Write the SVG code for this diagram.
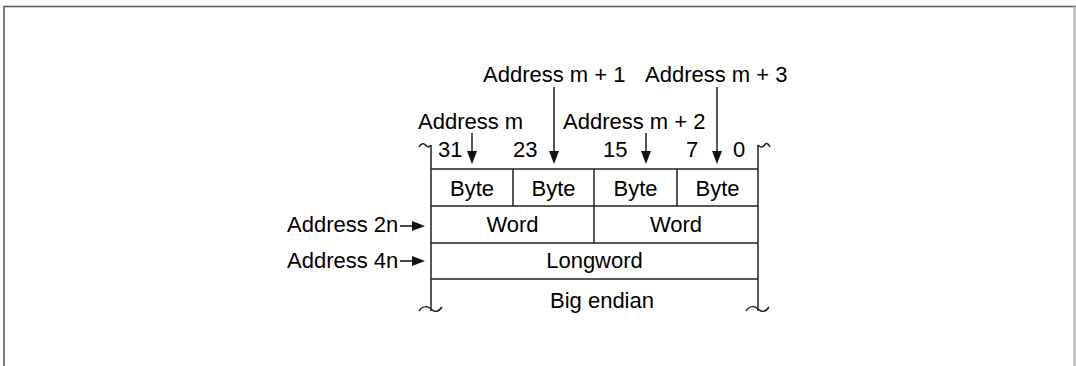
<svg xmlns="http://www.w3.org/2000/svg" width="1076" height="366" viewBox="0 0 1076 366">
<defs>
<style>
text{font-family:"Liberation Sans",Arial,sans-serif;font-size:22px;fill:#000}
.c{text-anchor:middle}
.ln{stroke:#222;stroke-width:1.5;fill:none}
.ar{stroke:#111;stroke-width:1.4;fill:none}
.hd{fill:#111;stroke:none}
</style>
</defs>
<rect width="1076" height="366" fill="#fff"/>
<g id="frame">
<path d="M4,6.5H1076M4,6V366" stroke="#555" stroke-width="1.5" fill="none"/>
<path d="M1074.5,6V366" stroke="#aaa" stroke-width="2" fill="none"/>
</g>
<g id="table">
<path class="ln" d="M431,145V311M758,145V311M431,169H758M431,206H758M431,243H758M431,279H758M513,169V206M594,169V243M677,169V206"/>
<path class="ln" d="M419,147C421,143 424,143 425.5,145S429,147.5 431,145"/>
<path class="ln" d="M758,145C760,147.5 763,147.5 764.5,145S768,143 770,147"/>
<path class="ln" d="M419,311C423,305 428,306 431,309S438,313 442,307"/>
<path class="ln" d="M746,311C750,305 755,306 758,309S765,313 769,307"/>
</g>
<g id="bits">
<text x="438" y="157">31</text>
<text x="513" y="157">23</text>
<text x="603" y="157">15</text>
<text x="686" y="157">7</text>
<text x="733" y="157">0</text>
</g>
<g id="bytes">
<text class="c" x="472" y="196">Byte</text>
<text class="c" x="553.5" y="196">Byte</text>
<text class="c" x="635.5" y="196">Byte</text>
<text class="c" x="717.5" y="196">Byte</text>
</g>
<g id="words">
<text class="c" x="512.5" y="232">Word</text>
<text class="c" x="676" y="232">Word</text>
</g>
<g id="longword"><text class="c" x="594.5" y="268">Longword</text></g>
<g id="endian"><text class="c" x="602" y="308">Big endian</text></g>
<g id="addr-m"><text x="418" y="129">Address m</text></g>
<g id="addr-m1"><text x="483" y="82">Address m + 1</text></g>
<g id="addr-m2"><text x="563" y="129">Address m + 2</text></g>
<g id="addr-m3"><text x="645" y="82">Address m + 3</text></g>
<g id="addr-2n"><text x="287" y="232">Address 2n</text></g>
<g id="addr-4n"><text x="287" y="268">Address 4n</text></g>
<g id="connectors">
<path class="ar" d="M472,133V153M554,87V153M646,133V153M717,87V153M400,226H414M400,261H414"/>
<path class="hd" d="M467,151H477L472,164ZM549,151H559L554,164ZM641,151H651L646,164ZM712,151H722L717,164Z"/>
<path class="hd" d="M412,221V231L425,226ZM412,256V266L425,261Z"/>
</g>
</svg>
